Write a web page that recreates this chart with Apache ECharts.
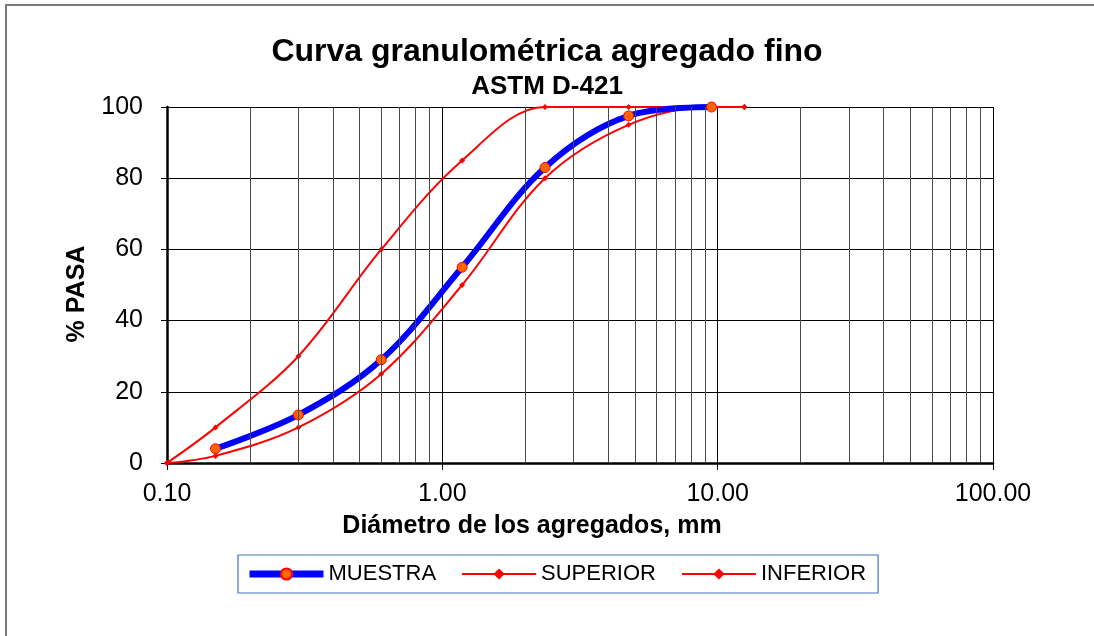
<!DOCTYPE html>
<html>
<head>
<meta charset="utf-8">
<script src="https://cdn.jsdelivr.net/npm/echarts@6/dist/echarts.min.js"></script>
<style>
  html, body { margin: 0; padding: 0; background: #fff; }
  #frame { position: absolute; left: 5px; top: 4px; width: 1089px; height: 632px;
           border-left: 2px solid #7a7a7a; border-top: 2px solid #7a7a7a; box-sizing: border-box; }
  #chart { position: absolute; left: 0; top: 0; width: 1094px; height: 636px; }
</style>
</head>
<body>
<div id="frame"></div>
<div id="chart"></div>
<script>
// Sieve openings (mm) and percent passing
const muestraDiam   = [0.15, 0.30, 0.60, 1.18, 2.36, 4.75, 9.50];
const muestraPasa   = [4, 13.5, 29, 55, 83, 97.5, 100];
const superiorDiam  = [0.10, 0.15, 0.30, 0.60, 1.18, 2.36, 4.75, 9.50, 12.50];
const superiorPasa  = [0, 10, 30, 60, 85, 100, 100, 100, 100];
const inferiorDiam  = [0.10, 0.15, 0.30, 0.60, 1.18, 2.36, 4.75, 9.50, 12.50];
const inferiorPasa  = [0, 2, 10, 25, 50, 80, 95, 100, 100];
// Intermediate log-grid diameters between decades
const gridDiameters = [0.2,0.3,0.4,0.5,0.6,0.7,0.8,0.9, 2,3,4,5,6,7,8,9, 20,30,40,50,60,70,80,90];

const pairs = (xs, ys) => xs.map((x, i) => [x, ys[i]]);
const FONT = 'Liberation Sans, Arial, sans-serif';

const chart = echarts.init(document.getElementById('chart'));
chart.setOption({
  animation: false,
  backgroundColor: 'transparent',
  title: [
    { text: 'Curva granulométrica agregado fino', left: 'center', top: 31,
      textStyle: { fontFamily: FONT, fontSize: 32, fontWeight: 'bold', color: '#000' } },
    { text: 'ASTM D-421', left: 'center', top: 69,
      textStyle: { fontFamily: FONT, fontSize: 26, fontWeight: 'bold', color: '#000' } }
  ],
  grid: { left: 167, top: 107, right: 101, bottom: 173, containLabel: false },
  xAxis: {
    type: 'log', logBase: 10, min: 0.1, max: 100,
    name: 'Diámetro de los agregados, mm', nameLocation: 'middle', nameGap: 51,
    nameTextStyle: { fontFamily: FONT, fontSize: 25, fontWeight: 'bold', color: '#000',
                     padding: [0, 96, 0, 0] },
    axisLine: { lineStyle: { color: '#000', width: 2.5 } },
    axisTick: { show: true, length: 7, lineStyle: { color: '#000', width: 1 } },
    axisLabel: { fontFamily: FONT, fontSize: 25, color: '#000', margin: 19,
                 formatter: v => Number(v).toFixed(2) },
    splitLine: { show: true, lineStyle: { color: '#000', width: 1 } }
  },
  yAxis: {
    type: 'value', min: 0, max: 100, interval: 20,
    name: '% PASA', nameLocation: 'middle', nameGap: 77, nameRotate: 90,
    nameTextStyle: { fontFamily: FONT, fontSize: 25, fontWeight: 'bold', color: '#000',
                     padding: [0, 18, 0, 0] },
    axisLine: { show: true, lineStyle: { color: '#000', width: 2.5 } },
    axisTick: { show: true, length: 6, lineStyle: { color: '#000', width: 1 } },
    axisLabel: { fontFamily: FONT, fontSize: 25, color: '#000', margin: 24 },
    splitLine: { show: true, lineStyle: { color: '#000', width: 1 } }
  },
  legend: {
    left: 238, top: 555,
    itemGap: 25, itemWidth: 74, itemHeight: 14,
    padding: [8, 12, 8, 8],
    borderColor: '#4472C4', borderWidth: 1.2, borderRadius: 0,
    textStyle: { fontFamily: FONT, fontSize: 22, color: '#000' },
    data: [
      { name: 'MUESTRA', lineStyle: { width: 7 } },
      { name: 'SUPERIOR' },
      { name: 'INFERIOR' }
    ]
  },
  series: [
    {
      name: 'grid', type: 'line', data: [], silent: true,
      markLine: {
        silent: true, symbol: 'none', label: { show: false },
        lineStyle: { color: '#4a4a4a', width: 1, type: 'solid' },
        data: gridDiameters.map(d => ({ xAxis: d }))
      }
    },
    {
      name: 'SUPERIOR', type: 'line', smooth: 0.35, z: 3,
      data: pairs(superiorDiam, superiorPasa),
      lineStyle: { color: '#FF0000', width: 2 },
      itemStyle: { color: '#FF0000' },
      symbol: 'diamond', symbolSize: 6, showAllSymbol: true
    },
    {
      name: 'INFERIOR', type: 'line', smooth: 0.35, z: 3,
      data: pairs(inferiorDiam, inferiorPasa),
      lineStyle: { color: '#FF0000', width: 2 },
      itemStyle: { color: '#FF0000' },
      symbol: 'diamond', symbolSize: 6, showAllSymbol: true
    },
    {
      name: 'MUESTRA', type: 'line', smooth: 0.35, z: 4,
      data: pairs(muestraDiam, muestraPasa),
      lineStyle: { color: '#0000FF', width: 6 },
      itemStyle: { color: '#FF6600', borderColor: '#FF0000', borderWidth: 1 },
      symbol: 'circle', symbolSize: 10, showAllSymbol: true
    }
  ]
});
</script>
</body>
</html>
